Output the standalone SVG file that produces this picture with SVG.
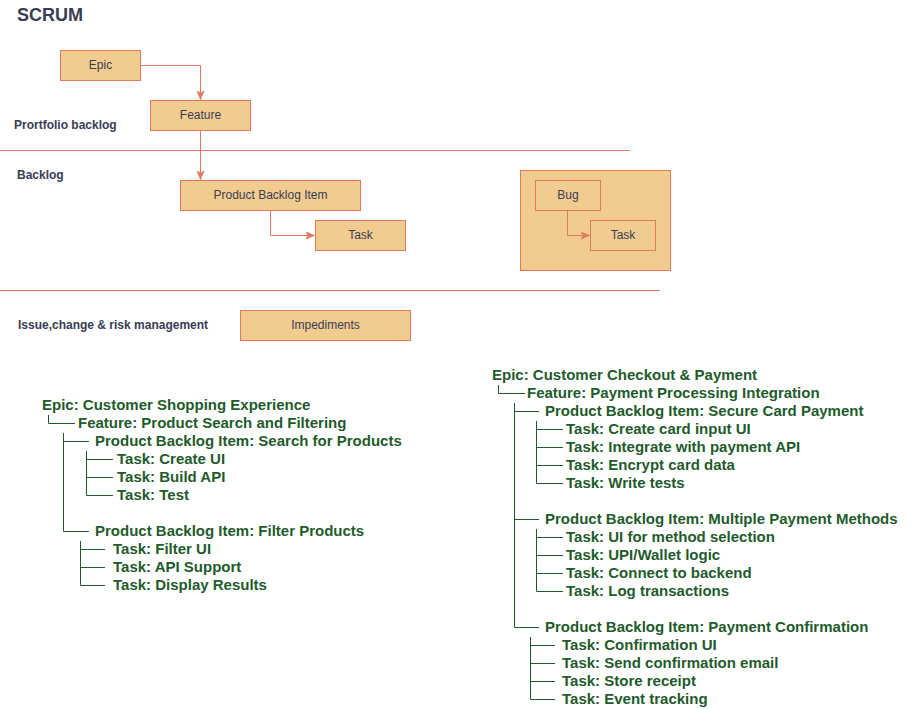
<svg xmlns="http://www.w3.org/2000/svg" width="921" height="709" viewBox="0 0 921 709">
<style>
.box{fill:#F2CC8F;stroke:#E07A5F;stroke-width:1}
.bt{font-family:"Liberation Sans",Arial,sans-serif;font-size:12px;fill:#393C56;text-anchor:middle}
.lbl{font-family:"Liberation Sans",Arial,sans-serif;font-size:12px;font-weight:bold;fill:#393C56}
.ttl{font-family:"Liberation Sans",Arial,sans-serif;font-size:18px;font-weight:bold;fill:#393C56}
.edge{fill:none;stroke:#E07A5F;stroke-width:1}
.sep{stroke:#E07A5F;stroke-width:1}
.tr{font-family:"Liberation Sans",Arial,sans-serif;font-size:15px;font-weight:bold;fill:#1F5B2C}
.tl{fill:none;stroke:#1F5B2C;stroke-width:1}
</style>
<defs>
<marker id="arr" markerUnits="userSpaceOnUse" markerWidth="10" markerHeight="8" refX="9" refY="4" orient="auto">
<path d="M0,0 L9,4 L0,8 L2.5,4 Z" fill="#E07A5F" stroke="#E07A5F" stroke-width="0.5"/>
</marker>
</defs>
<rect width="921" height="709" fill="#FFFFFF"/>
<text class="ttl" x="17" y="21">SCRUM</text>
<g id="labels">
<text class="lbl" x="14" y="129">Prortfolio backlog</text>
<text class="lbl" x="17" y="179">Backlog</text>
<text class="lbl" x="18" y="329">Issue,change &amp; risk management</text>
</g>
<g id="separators">
<line class="sep" x1="0" y1="150.5" x2="630" y2="150.5"/>
<line class="sep" x1="0" y1="290.5" x2="660" y2="290.5"/>
</g>
<g id="bug-container"><rect class="box" x="520.5" y="170.5" width="150" height="100"/></g>
<g id="connectors">
<path class="edge" d="M140.5,65.5 H200.5 V99.5" marker-end="url(#arr)"/>
<path class="edge" d="M200.5,130.5 V179.5" marker-end="url(#arr)"/>
<path class="edge" d="M270.5,210.5 V235.5 H314.5" marker-end="url(#arr)"/>
<path class="edge" d="M567.5,210.5 V235.5 H589.5" marker-end="url(#arr)"/>
</g>
<g id="epic"><rect class="box" x="60.5" y="50.5" width="80" height="30"/><text class="bt" x="100.5" y="68.5">Epic</text></g>
<g id="feature"><rect class="box" x="150.5" y="100.5" width="100" height="30"/><text class="bt" x="200.5" y="118.5">Feature</text></g>
<g id="pbi"><rect class="box" x="180.5" y="180.5" width="180" height="30"/><text class="bt" x="270.5" y="198.5">Product Backlog Item</text></g>
<g id="task"><rect class="box" x="315.5" y="220.5" width="90" height="30"/><text class="bt" x="360.5" y="238.5">Task</text></g>
<g id="bug"><rect class="box" x="535.5" y="180.5" width="65" height="30"/><text class="bt" x="568" y="198.5">Bug</text></g>
<g id="bug-task"><rect class="box" x="590.5" y="220.5" width="65" height="30"/><text class="bt" x="623" y="238.5">Task</text></g>
<g id="impediments"><rect class="box" x="240.5" y="310.5" width="170" height="30"/><text class="bt" x="325.5" y="328.5">Impediments</text></g>
<g id="tree-left">
<path class="tl" d="M48.5,415 V423.5 H75 M63.5,433 V531.5 H89 M63.5,441.5 H89 M86.5,451 V495.5 H113 M86.5,459.5 H113 M86.5,477.5 H113 M80.5,541 V585.5 H105 M80.5,549.5 H105 M80.5,567.5 H105"/>
<text class="tr" x="42" y="410">Epic: Customer Shopping Experience</text>
<text class="tr" x="78" y="428">Feature: Product Search and Filtering</text>
<text class="tr" x="95" y="446">Product Backlog Item: Search for Products</text>
<text class="tr" x="117" y="464">Task: Create UI</text>
<text class="tr" x="117" y="482">Task: Build API</text>
<text class="tr" x="117" y="500">Task: Test</text>
<text class="tr" x="95" y="536">Product Backlog Item: Filter Products</text>
<text class="tr" x="113" y="554">Task: Filter UI</text>
<text class="tr" x="113" y="572">Task: API Support</text>
<text class="tr" x="113" y="590">Task: Display Results</text>
</g>
<g id="tree-right">
<path class="tl" d="M498.5,385 V393.5 H525 M514.5,403 V627.5 H539 M514.5,411.5 H539 M514.5,519.5 H539 M536.5,421 V483.5 H563 M536.5,429.5 H563 M536.5,447.5 H563 M536.5,465.5 H563 M536.5,529 V591.5 H563 M536.5,537.5 H563 M536.5,555.5 H563 M536.5,573.5 H563 M530.5,637 V699.5 H555 M530.5,645.5 H555 M530.5,663.5 H555 M530.5,681.5 H555"/>
<text class="tr" x="492" y="380">Epic: Customer Checkout &amp; Payment</text>
<text class="tr" x="527" y="398">Feature: Payment Processing Integration</text>
<text class="tr" x="545" y="416">Product Backlog Item: Secure Card Payment</text>
<text class="tr" x="566" y="434">Task: Create card input UI</text>
<text class="tr" x="566" y="452">Task: Integrate with payment API</text>
<text class="tr" x="566" y="470">Task: Encrypt card data</text>
<text class="tr" x="566" y="488">Task: Write tests</text>
<text class="tr" x="545" y="524">Product Backlog Item: Multiple Payment Methods</text>
<text class="tr" x="566" y="542">Task: UI for method selection</text>
<text class="tr" x="566" y="560">Task: UPI/Wallet logic</text>
<text class="tr" x="566" y="578">Task: Connect to backend</text>
<text class="tr" x="566" y="596">Task: Log transactions</text>
<text class="tr" x="545" y="632">Product Backlog Item: Payment Confirmation</text>
<text class="tr" x="562" y="650">Task: Confirmation UI</text>
<text class="tr" x="562" y="668">Task: Send confirmation email</text>
<text class="tr" x="562" y="686">Task: Store receipt</text>
<text class="tr" x="562" y="704">Task: Event tracking</text>
</g>
</svg>
